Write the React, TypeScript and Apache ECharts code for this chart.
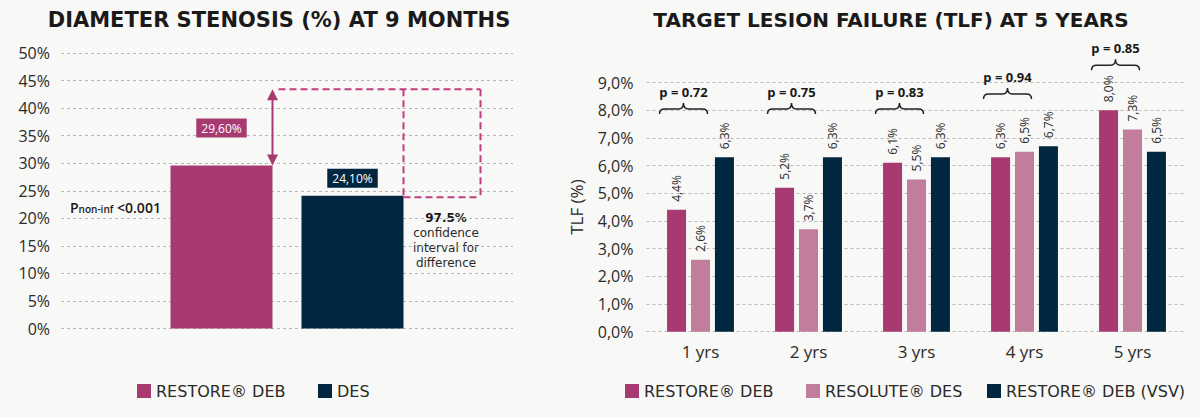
import React, { useEffect, useRef } from "react";
import * as echarts from "echarts";

// ---- Left chart: diameter stenosis at 9 months ----
const DS_CATEGORIES = ["9 months"];
const DS_RESTORE_DEB = [29.6];
const DS_DES = [24.1];
const DS_CI_UPPER = 43.4;
const DS_CI_LOWER = 23.8;

// ---- Right chart: TLF at 5 years ----
const TLF_CATEGORIES = ["1 yrs", "2 yrs", "3 yrs", "4 yrs", "5 yrs"];
const TLF_RESTORE_DEB = [4.4, 5.2, 6.1, 6.3, 8.0];
const TLF_RESOLUTE_DES = [2.6, 3.7, 5.5, 6.5, 7.3];
const TLF_RESTORE_VSV = [6.3, 6.3, 6.3, 6.7, 6.5];
const TLF_P_VALUES = ["0.72", "0.75", "0.83", "0.94", "0.85"];
const TLF_BRACE_LEVEL = [7.86, 7.86, 7.86, 8.4, 9.44];

const MAGENTA = "#a83a72";
const PINK = "#c27c9c";
const NAVY = "#002640";
const DASH = "#c23c80";
const TEXT = "#2a2a2a";
const FONT = "'Open Sans', 'Noto Sans', sans-serif";
const WIDE = "'DejaVu Sans', 'Open Sans', sans-serif";

const LEFT_BAR_W = 102;
const LEFT_BAR_GAP = 29;

const pct1 = (v: number) => v.toFixed(1).replace(".", ",") + "%";
const pct2 = (v: number) => v.toFixed(2).replace(".", ",") + "%";

const legendItem = (name: string, left: number) => ({
  data: [name],
  left,
  top: 378,
  icon: "rect",
  itemWidth: 14,
  itemHeight: 14,
  itemGap: 0,
  textStyle: { fontFamily: WIDE, fontSize: 16, color: TEXT },
});

export default function App() {
  const ref = useRef<HTMLDivElement>(null);

  useEffect(() => {
    if (!ref.current) return;
    const chart = echarts.init(ref.current, undefined, { renderer: "svg" });

    const splitLine = {
      show: true,
      lineStyle: { color: "#b8b8b8", type: [3, 3] as any, width: 1 },
    };

    const barLabel = {
      show: true,
      position: "top",
      rotate: 90,
      align: "left",
      verticalAlign: "middle",
      distance: 8,
      formatter: (p: any) => pct1(p.value),
      fontFamily: FONT,
      fontSize: 12,
      color: TEXT,
    };

    const ciLine = (text: string, y: number, bold: boolean) => ({
      type: "text",
      x: 446,
      y,
      style: {
        text,
        align: "center",
        verticalAlign: "middle",
        fontFamily: WIDE,
        fontSize: 12,
        fontWeight: bold ? 700 : 400,
        fill: bold ? "#1a1a1a" : TEXT,
      },
    });

    const option: any = {
      animation: false,
      backgroundColor: "#f8f8f7",
      textStyle: { fontFamily: FONT },
      title: [
        {
          text: "DIAMETER STENOSIS (%) AT 9 MONTHS",
          left: 274,
          top: 4,
          textAlign: "center",
          textStyle: { fontFamily: WIDE, fontSize: 21, fontWeight: 700, color: "#1a1a1a" },
        },
        {
          text: "TARGET LESION FAILURE (TLF) AT 5 YEARS",
          left: 886,
          top: 5,
          textAlign: "center",
          textStyle: { fontFamily: WIDE, fontSize: 20, fontWeight: 700, color: "#1a1a1a" },
        },
      ],
      legend: [
        legendItem("RESTORE® DEB", 132),
        legendItem("DES", 313),
        legendItem("RESTORE® DEB", 620),
        legendItem("RESOLUTE® DES", 801),
        legendItem("RESTORE® DEB (VSV)", 982),
      ],
      grid: [
        { left: 61, right: 687, top: 53, bottom: 88.5 },
        { left: 646.5, right: 13.5, top: 82.5, bottom: 85.3 },
      ],
      xAxis: [
        {
          type: "category",
          gridIndex: 0,
          data: DS_CATEGORIES,
          axisLine: { show: false },
          axisTick: { show: false },
          axisLabel: { show: false },
        },
        {
          type: "category",
          gridIndex: 1,
          data: TLF_CATEGORIES,
          axisLine: { show: false },
          axisTick: { show: false },
          axisLabel: { fontFamily: FONT, fontSize: 17, color: TEXT, margin: 11 },
        },
      ],
      yAxis: [
        {
          type: "value",
          gridIndex: 0,
          min: 0,
          max: 50,
          interval: 5,
          axisLine: { show: false },
          axisTick: { show: false },
          axisLabel: { fontFamily: FONT, fontSize: 16, color: TEXT, margin: 11, formatter: (v: number) => v + "%" },
          splitLine,
        },
        {
          type: "value",
          gridIndex: 1,
          min: 0,
          max: 9,
          interval: 1,
          name: "TLF (%)",
          nameLocation: "middle",
          nameGap: 62,
          nameRotate: 90,
          nameTextStyle: { fontFamily: FONT, fontSize: 17, color: TEXT },
          axisLine: { show: false },
          axisTick: { show: false },
          axisLabel: { fontFamily: FONT, fontSize: 16, color: TEXT, margin: 13, formatter: (v: number) => pct1(v) },
          splitLine,
        },
      ],
      series: [
        {
          name: "RESTORE® DEB",
          type: "bar",
          xAxisIndex: 0,
          yAxisIndex: 0,
          barWidth: LEFT_BAR_W,
          barGap: (LEFT_BAR_GAP / LEFT_BAR_W) * 100 + "%",
          itemStyle: { color: MAGENTA },
          data: DS_RESTORE_DEB,
          label: {
            show: true,
            position: "top",
            distance: 28,
            formatter: (p: any) => pct2(p.value),
            color: "#fff",
            fontFamily: FONT,
            fontSize: 12,
            backgroundColor: MAGENTA,
            padding: [4, 5, 3, 5],
          },
        },
        {
          name: "DES",
          type: "bar",
          xAxisIndex: 0,
          yAxisIndex: 0,
          barWidth: LEFT_BAR_W,
          itemStyle: { color: NAVY },
          data: DS_DES,
          label: {
            show: true,
            position: "top",
            distance: 8,
            formatter: (p: any) => pct2(p.value),
            color: "#fff",
            fontFamily: FONT,
            fontSize: 12,
            backgroundColor: NAVY,
            padding: [4, 5, 3, 5],
          },
        },
        {
          name: "ci-annotation",
          type: "custom",
          xAxisIndex: 0,
          yAxisIndex: 0,
          clip: false,
          z: 10,
          silent: true,
          data: [[0, DS_CI_UPPER]],
          renderItem: (_params: any, api: any) => {
            const top = api.coord([0, DS_CI_UPPER]);
            const cx = top[0];
            const yTop = top[1];
            const yBar = api.coord([0, DS_RESTORE_DEB[0]])[1];
            const yLow = api.coord([0, DS_CI_LOWER])[1];
            const xa = cx - LEFT_BAR_GAP / 2;
            const xb = cx + LEFT_BAR_GAP / 2 + LEFT_BAR_W;
            const xc = xb + 77;
            const dashStyle = { stroke: DASH, lineWidth: 2, lineDash: [7, 4], fill: "none" };
            return {
              type: "group",
              children: [
                { type: "line", shape: { x1: xa, y1: yTop + 10, x2: xa, y2: yBar - 10 }, style: { stroke: MAGENTA, lineWidth: 2 } },
                { type: "polygon", shape: { points: [[xa, yTop], [xa - 5.5, yTop + 11], [xa + 5.5, yTop + 11]] }, style: { fill: MAGENTA } },
                { type: "polygon", shape: { points: [[xa, yBar], [xa - 5.5, yBar - 11], [xa + 5.5, yBar - 11]] }, style: { fill: MAGENTA } },
                { type: "line", shape: { x1: xa + 6, y1: yTop, x2: xc, y2: yTop }, style: dashStyle },
                { type: "line", shape: { x1: xb, y1: yTop, x2: xb, y2: yLow }, style: dashStyle },
                { type: "line", shape: { x1: xc, y1: yTop, x2: xc, y2: yLow }, style: dashStyle },
                { type: "line", shape: { x1: xb, y1: yLow, x2: xc, y2: yLow }, style: dashStyle },
              ],
            };
          },
        },
        {
          name: "RESTORE® DEB",
          type: "bar",
          xAxisIndex: 1,
          yAxisIndex: 1,
          barWidth: 19,
          barGap: "26%",
          itemStyle: { color: MAGENTA },
          data: TLF_RESTORE_DEB,
          label: barLabel,
        },
        {
          name: "RESOLUTE® DES",
          type: "bar",
          xAxisIndex: 1,
          yAxisIndex: 1,
          barWidth: 19,
          barGap: "26%",
          itemStyle: { color: PINK },
          data: TLF_RESOLUTE_DES,
          label: barLabel,
        },
        {
          name: "RESTORE® DEB (VSV)",
          type: "bar",
          xAxisIndex: 1,
          yAxisIndex: 1,
          barWidth: 19,
          barGap: "26%",
          itemStyle: { color: NAVY },
          data: TLF_RESTORE_VSV,
          label: barLabel,
        },
        {
          name: "p-values",
          type: "custom",
          xAxisIndex: 1,
          yAxisIndex: 1,
          clip: false,
          z: 10,
          silent: true,
          data: TLF_BRACE_LEVEL.map((v, i) => [i, v]),
          renderItem: (params: any, api: any) => {
            const i = params.dataIndex;
            const pt = api.coord([api.value(0), api.value(1)]);
            const cx = pt[0] - 17;
            const yb = pt[1];
            const d =
              `M${cx - 24},${yb} Q${cx - 24},${yb - 5} ${cx - 19},${yb - 5} ` +
              `L${cx - 5},${yb - 5} Q${cx},${yb - 5} ${cx},${yb - 11} ` +
              `Q${cx},${yb - 5} ${cx + 5},${yb - 5} L${cx + 19},${yb - 5} ` +
              `Q${cx + 24},${yb - 5} ${cx + 24},${yb}`;
            return {
              type: "group",
              children: [
                { type: "path", shape: { pathData: d }, style: { stroke: "#222", lineWidth: 1.5, fill: "none" } },
                {
                  type: "text",
                  x: cx,
                  y: yb - 22,
                  style: {
                    text: "p = " + TLF_P_VALUES[i],
                    align: "center",
                    verticalAlign: "middle",
                    fontFamily: FONT,
                    fontSize: 13,
                    fontWeight: 700,
                    fill: "#1a1a1a",
                  },
                },
              ],
            };
          },
        },
      ],
      graphic: [
        {
          type: "text",
          left: 70,
          top: 200,
          style: {
            text: "{p|P}{s|non-inf}{b| <0.001}",
            rich: {
              p: { fontFamily: FONT, fontSize: 14, fontWeight: 600, fill: "#1a1a1a", verticalAlign: "bottom" },
              s: { fontFamily: FONT, fontSize: 10, fontWeight: 600, fill: "#1a1a1a", verticalAlign: "bottom" },
              b: { fontFamily: FONT, fontSize: 14, fontWeight: 600, fill: "#1a1a1a", verticalAlign: "bottom" },
            },
          },
        },
        ciLine("97.5%", 218, true),
        ciLine("confidence", 233, false),
        ciLine("interval for", 248, false),
        ciLine("difference", 263, false),
      ],
    };

    chart.setOption(option);
    return () => chart.dispose();
  }, []);

  return (
    <div
      ref={ref}
      style={{ position: "fixed", left: 0, top: 0, width: 1200, height: 417 }}
    />
  );
}
